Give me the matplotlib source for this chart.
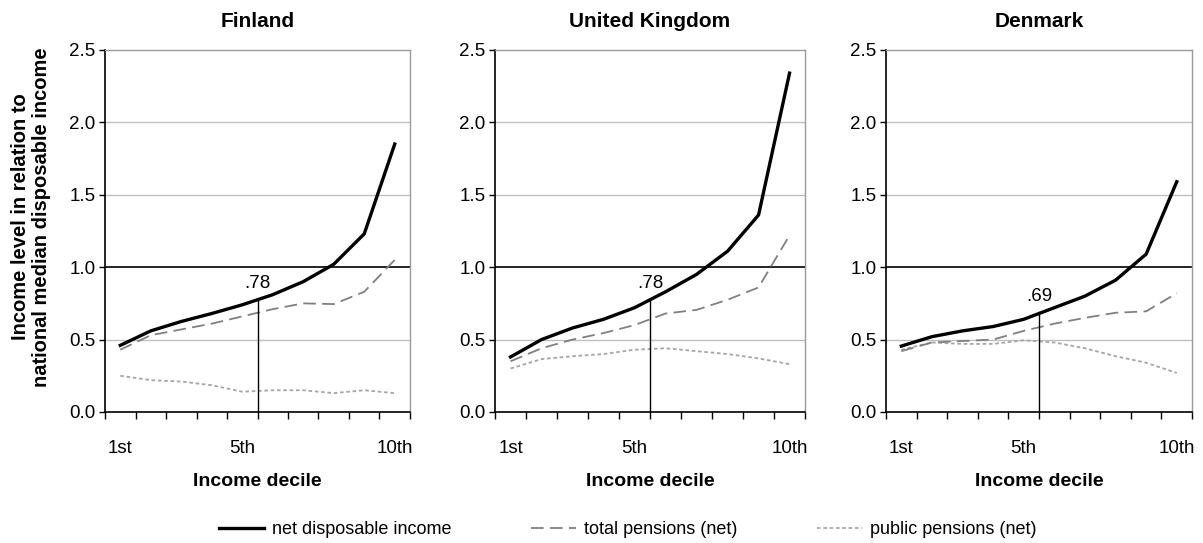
import matplotlib
matplotlib.use("Agg")
import matplotlib.pyplot as plt
from matplotlib.lines import Line2D
import numpy as np

plt.rcParams['font.family'] = ['Liberation Sans', 'DejaVu Sans']

# ── Data ─────────────────────────────────────────────
countries = ["Finland", "United Kingdom", "Denmark"]
deciles = ["1st", "2nd", "3rd", "4th", "5th", "6th", "7th", "8th", "9th", "10th"]
shown_labels = ["1st", "5th", "10th"]

net_income = {
    "Finland":        [0.46, 0.56, 0.625, 0.68, 0.74, 0.81, 0.90, 1.02, 1.23, 1.85],
    "United Kingdom": [0.38, 0.50, 0.58, 0.64, 0.72, 0.83, 0.95, 1.11, 1.36, 2.34],
    "Denmark":        [0.455, 0.52, 0.56, 0.59, 0.64, 0.72, 0.80, 0.91, 1.09, 1.59],
}
total_pensions = {
    "Finland":        [0.43, 0.53, 0.57, 0.61, 0.66, 0.71, 0.75, 0.745, 0.83, 1.05],
    "United Kingdom": [0.35, 0.44, 0.50, 0.545, 0.60, 0.68, 0.705, 0.775, 0.86, 1.22],
    "Denmark":        [0.42, 0.48, 0.49, 0.50, 0.56, 0.61, 0.65, 0.685, 0.695, 0.82],
}
public_pensions = {
    "Finland":        [0.25, 0.22, 0.21, 0.185, 0.14, 0.15, 0.15, 0.13, 0.15, 0.13],
    "United Kingdom": [0.30, 0.365, 0.385, 0.40, 0.43, 0.44, 0.42, 0.40, 0.37, 0.33],
    "Denmark":        [0.43, 0.48, 0.47, 0.47, 0.495, 0.48, 0.44, 0.385, 0.34, 0.27],
}
median_value = {"Finland": 0.78, "United Kingdom": 0.78, "Denmark": 0.69}
median_label = {"Finland": ".78", "United Kingdom": ".78", "Denmark": ".69"}

# ── Layout ───────────────────────────────────────────
fig = plt.figure(figsize=(12.03, 5.43), dpi=100)
positions = [
    [0.0873, 0.2413, 0.2535, 0.6667],
    [0.4115, 0.2413, 0.2577, 0.6667],
    [0.7365, 0.2413, 0.2544, 0.6667],
]

x = np.arange(1, len(deciles) + 1)

for i, country in enumerate(countries):
    ax = fig.add_axes(positions[i])

    ax.plot(x, public_pensions[country], color='#a6a6a6', linewidth=1.3,
            linestyle=(0, (2, 1.5)))
    ax.plot(x, total_pensions[country], color='#808080', linewidth=1.3,
            linestyle=(0, (7, 3.5)))
    ax.plot(x, net_income[country], color='black', linewidth=2.4)

    ax.axhline(1.0, color='black', linewidth=1.2, zorder=1)
    for g in [0.5, 1.5, 2.0]:
        ax.axhline(g, color='#c0c0c0', linewidth=1.0, zorder=0)

    # median marker
    ax.plot([5.5, 5.5], [0, median_value[country]], color='black', linewidth=1.0)
    ax.text(5.5, median_value[country] + 0.05, median_label[country],
            ha='center', va='bottom', fontsize=13.5)

    ax.set_xlim(0.5, 10.5)
    ax.set_ylim(0, 2.5)
    ax.set_yticks([0.0, 0.5, 1.0, 1.5, 2.0, 2.5])
    ax.set_yticklabels([f"{v:.1f}" for v in [0.0, 0.5, 1.0, 1.5, 2.0, 2.5]])

    # ticks at category boundaries, labels at selected centres
    ax.set_xticks(np.arange(0.5, 11, 1.0))
    ax.set_xticklabels([])
    ax.set_xticks([1, 5, 10], minor=True)
    ax.set_xticklabels(shown_labels, minor=True)
    ax.tick_params(axis='x', which='major', length=5, width=1.0, direction='out')
    ax.tick_params(axis='x', which='minor', length=0, pad=20, labelsize=13.5)
    ax.tick_params(axis='y', length=4, width=1.0, direction='out', pad=3,
                   labelsize=13.5, colors='black')

    for side in ['top', 'right']:
        ax.spines[side].set_color('#999999')
        ax.spines[side].set_linewidth(1.0)
    for side in ['left', 'bottom']:
        ax.spines[side].set_color('black')
        ax.spines[side].set_linewidth(1.2)

    ax.set_title(country, fontsize=15, fontweight='bold', pad=16.5)
    ax.set_xlabel("Income decile", fontsize=14, fontweight='bold', labelpad=12)

fig.text(31 / 1203, 1 - 217 / 543,
         "Income level in relation to\nnational median disposable income",
         rotation=90, ha='center', va='center', fontsize=14.5, fontweight='bold',
         linespacing=1.1)

# ── Legend ───────────────────────────────────────────
handles = [
    Line2D([], [], color='black', linewidth=2.4),
    Line2D([], [], color='#808080', linewidth=1.3, linestyle=(0, (7, 3.5))),
    Line2D([], [], color='#a6a6a6', linewidth=1.3, linestyle=(0, (2, 1.5))),
]
labels = ["net disposable income", "total pensions (net)", "public pensions (net)"]
fig.legend(handles, labels, loc='center', bbox_to_anchor=(0.522, 0.024), ncol=3,
           frameon=False, handlelength=2.5, handletextpad=0.45,
           columnspacing=4.4, prop={'size': 13})

fig.savefig("out.png", dpi=100)
